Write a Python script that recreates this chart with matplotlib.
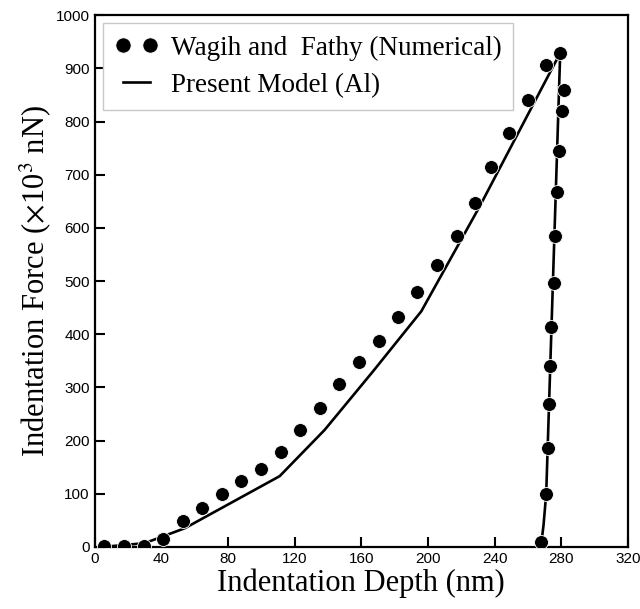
import numpy as np
import matplotlib
matplotlib.use("Agg")
import matplotlib.pyplot as plt

plt.rcParams['mathtext.fontset'] = 'stix'

# numerical data points (Wagih and Fathy): loading then unloading
num_depth = [5.5, 17.6, 29.4, 41, 52.7, 64.5, 76.3, 88, 99.8, 111.8, 123.2, 135.2,
             146.8, 158.7, 170.5, 182, 193.7, 205.5, 217.3, 228.4, 238, 248.5, 259.8,
             271, 279.4,
             281.9, 280.4, 278.8, 277.4, 276.2, 275.4, 274, 273.4, 272.8, 272.2, 271, 268]
num_force = [2, 2, 2, 14, 49, 73, 100, 124, 147, 179, 219, 262,
             306, 347, 388, 432, 479, 530, 585, 646, 714, 778, 840,
             907, 929,
             860, 820, 744, 667, 585, 497, 414, 341, 269, 186, 99, 10]

# present model (Al)
mod_depth = [5, 30, 54, 111, 138, 167, 196, 231, 279.4, 271, 269.4, 267.8]
mod_force = [0, 7, 35, 133, 220, 330, 443, 640, 929, 100, 41, 0]

fig = plt.figure(figsize=(6.4, 6.09), dpi=100)
ax = fig.add_axes([0.148, 0.102, 0.833, 0.873])

ax.plot(num_depth, num_force, 'o', color='black', markersize=10,
        markeredgecolor='white', markeredgewidth=0.6,
        label='Wagih and  Fathy (Numerical)', zorder=3)
ax.plot(mod_depth, mod_force, '-', color='black', linewidth=1.9,
        label='Present Model (Al)', zorder=2)

ax.set_xlim(0, 320)
ax.set_ylim(0, 1000)
ax.set_xticks(np.arange(0, 321, 40))
ax.set_yticks(np.arange(0, 1001, 100))
ax.tick_params(direction='in', length=7, width=1.5, labelsize=11)
for lab in ax.get_xticklabels() + ax.get_yticklabels():
    lab.set_family('Liberation Sans')
for s in ax.spines.values():
    s.set_linewidth(1.6)

ax.set_xlabel('Indentation Depth (nm)', family='Liberation Serif', fontsize=22, labelpad=2)
ax.set_ylabel(r'Indentation Force ($\times$10$^3$ nN)', family='Liberation Serif',
              fontsize=22, labelpad=2)

leg = ax.legend(loc='upper left', numpoints=2, fancybox=False, framealpha=1,
                edgecolor='#c8c8c8', prop={'family': 'Liberation Serif', 'size': 19.5},
                borderaxespad=0.3, handlelength=1.6, handletextpad=0.45,
                labelspacing=0.45, borderpad=0.45, markerscale=1.1)
leg.get_frame().set_linewidth(1.0)

fig.savefig('out.png', dpi=100)
